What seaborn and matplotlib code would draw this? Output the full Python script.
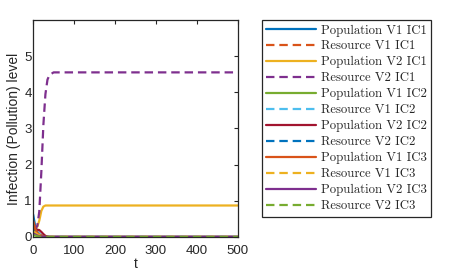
import numpy as np
import pandas as pd
import matplotlib
matplotlib.use("Agg")
import matplotlib.pyplot as plt
import seaborn as sns

# time samples
t = [0, 5, 10, 15, 20, 25, 30, 35, 40, 50, 60, 100, 200, 300, 400, 500]

# series values (estimated near t=0)
pop_v1_ic1 = [0.62, 0.30, 0.15, 0.08, 0.04, 0.02, 0.01, 0.0, 0.0, 0.0, 0.0, 0.0, 0.0, 0.0, 0.0, 0.0]
res_v1_ic1 = [0.45, 0.25, 0.12, 0.06, 0.03, 0.01, 0.0, 0.0, 0.0, 0.0, 0.0, 0.0, 0.0, 0.0, 0.0, 0.0]
pop_v2_ic1 = [0.22, 0.25, 0.28, 0.45, 0.72, 0.84, 0.87, 0.87, 0.87, 0.87, 0.87, 0.87, 0.87, 0.87, 0.87, 0.87]
res_v2_ic1 = [0.30, 0.25, 0.30, 0.70, 1.80, 3.10, 3.95, 4.35, 4.48, 4.55, 4.55, 4.55, 4.55, 4.55, 4.55, 4.55]
pop_v1_ic2 = [0.20, 0.15, 0.10, 0.06, 0.03, 0.01, 0.0, 0.0, 0.0, 0.0, 0.0, 0.0, 0.0, 0.0, 0.0, 0.0]
res_v1_ic2 = [0.10, 0.14, 0.15, 0.10, 0.05, 0.02, 0.0, 0.0, 0.0, 0.0, 0.0, 0.0, 0.0, 0.0, 0.0, 0.0]
pop_v2_ic2 = [0.25, 0.22, 0.20, 0.19, 0.14, 0.08, 0.03, 0.01, 0.0, 0.0, 0.0, 0.0, 0.0, 0.0, 0.0, 0.0]
res_v2_ic2 = [0.30, 0.20, 0.12, 0.07, 0.03, 0.01, 0.0, 0.0, 0.0, 0.0, 0.0, 0.0, 0.0, 0.0, 0.0, 0.0]
pop_v1_ic3 = [0.40, 0.22, 0.12, 0.06, 0.03, 0.01, 0.0, 0.0, 0.0, 0.0, 0.0, 0.0, 0.0, 0.0, 0.0, 0.0]
res_v1_ic3 = [0.15, 0.12, 0.08, 0.05, 0.02, 0.01, 0.0, 0.0, 0.0, 0.0, 0.0, 0.0, 0.0, 0.0, 0.0, 0.0]
pop_v2_ic3 = [0.10, 0.07, 0.04, 0.02, 0.01, 0.0, 0.0, 0.0, 0.0, 0.0, 0.0, 0.0, 0.0, 0.0, 0.0, 0.0]
res_v2_ic3 = [0.05, 0.04, 0.02, 0.01, 0.0, 0.0, 0.0, 0.0, 0.0, 0.0, 0.0, 0.0, 0.0, 0.0, 0.0, 0.0]

labels = ["Population V1 IC1", "Resource V1 IC1", "Population V2 IC1", "Resource V2 IC1",
          "Population V1 IC2", "Resource V1 IC2", "Population V2 IC2", "Resource V2 IC2",
          "Population V1 IC3", "Resource V1 IC3", "Population V2 IC3", "Resource V2 IC3"]
series = [pop_v1_ic1, res_v1_ic1, pop_v2_ic1, res_v2_ic1,
          pop_v1_ic2, res_v1_ic2, pop_v2_ic2, res_v2_ic2,
          pop_v1_ic3, res_v1_ic3, pop_v2_ic3, res_v2_ic3]

# MATLAB default colour order
matlab_colors = ["#0072BD", "#D95319", "#EDB120", "#7E2F8E", "#77AC30", "#4DBEEE", "#A2142F"]

sns.set_style("white")
plt.rcParams["font.family"] = ["Liberation Sans", "DejaVu Sans"]

fig = plt.figure(figsize=(4.54, 2.73), dpi=100)
ax = fig.add_axes([0.073, 0.132, 0.451, 0.795])

for i, (lab, vals) in enumerate(zip(labels, series)):
    df = pd.DataFrame({"t": t, "y": vals})
    ls = "-" if i % 2 == 0 else (0, (3.8, 2.2))
    sns.lineplot(data=df, x="t", y="y", ax=ax, color=matlab_colors[i % 7],
                 linestyle=ls, linewidth=1.6, label=lab)

ax.set_xlim(0, 500)
ax.set_ylim(0, 6)
ax.set_xticks([0, 100, 200, 300, 400, 500])
ax.set_yticks([0, 1, 2, 3, 4, 5])
ax.tick_params(direction="in", length=3, width=0.8, labelsize=9.5, colors="#262626",
               top=True, right=True)
ax.tick_params(axis="x", pad=5.5)
ax.tick_params(axis="y", pad=1)
for sp in ax.spines.values():
    sp.set_color("#262626")
    sp.set_linewidth(0.9)
ax.set_xlabel("t", fontsize=10, color="#262626", labelpad=0)
ax.set_ylabel("Infection (Pollution) level", fontsize=10, color="#262626", labelpad=2)

ax.legend(loc="upper left", bbox_to_anchor=(0.577, 0.927), bbox_transform=fig.transFigure,
          prop={"family": "cmr10", "size": 9.2}, frameon=True, fancybox=False,
          edgecolor="#262626", framealpha=1, handlelength=3.9, labelspacing=0.30,
          borderpad=0.35, handletextpad=0.35, borderaxespad=0)
ax.get_legend().get_frame().set_linewidth(0.9)

fig.savefig("out.png", dpi=100)
